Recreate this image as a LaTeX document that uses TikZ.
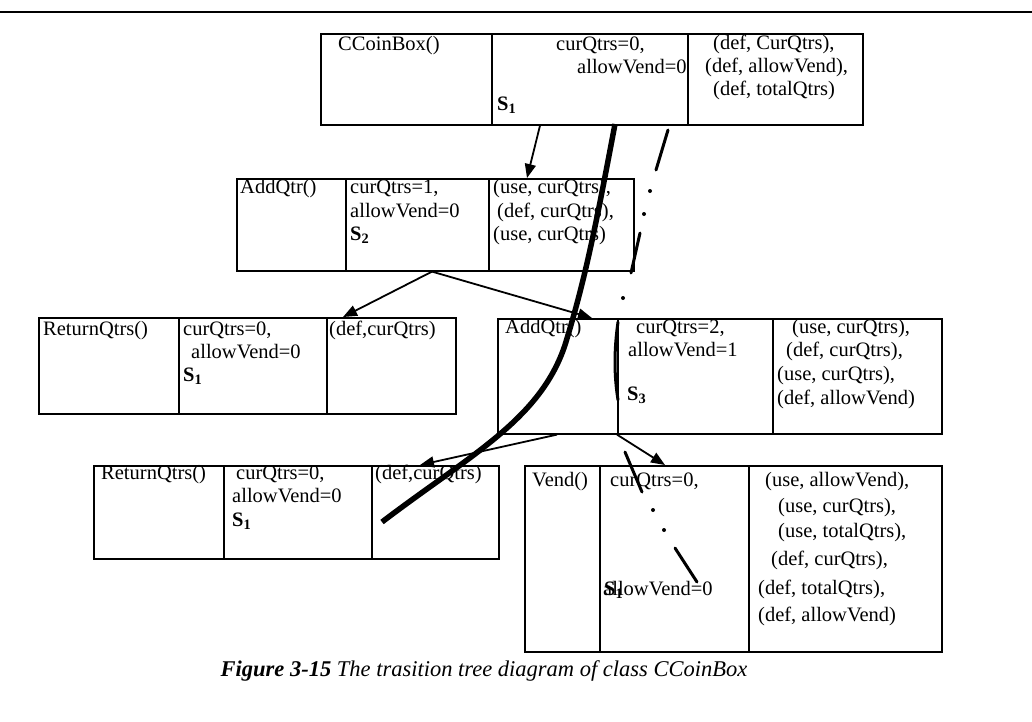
\documentclass[tikz,border=0pt]{standalone}
\usepackage{fontspec}
\setmainfont{Liberation Serif}
\usetikzlibrary{arrows.meta}
\newcommand\tx[4]{\node[lbl] (#1) at (#2,#3) {#4};}
\newcommand\Sx[1]{\textbf{S}\textsubscript{\textbf{#1}}}
\begin{document}
\begin{tikzpicture}[x=1pt,y=-1pt,
  cell/.style={draw=black,line width=1.6pt,rectangle,inner sep=0pt,anchor=north west},
  lbl/.style={inner sep=0pt,anchor=base west,font=\fontsize{20.5}{23}\selectfont},
  arr/.style={line width=1.8pt,-{Triangle[length=14pt,width=11pt]}},
  thickcurve/.style={line width=5.5pt},
  dashseg/.style={line width=3pt,line cap=round},
  dotmark/.style={fill=black,draw=none}]
\useasboundingbox (0,0) rectangle (1032,721);
% top rule
\draw[line width=2.5pt] (0,12) -- (1032,12);

% Box 1
\node[cell,minimum width=171pt,minimum height=91pt] (b1a) at (320,33) {};
\node[cell,minimum width=196pt,minimum height=91pt] (b1b) at (491,33) {};
\node[cell,minimum width=175pt,minimum height=91pt] (b1c) at (687,33) {};
% Box 2
\node[cell,minimum width=109pt,minimum height=92pt] (b2a) at (236,178) {};
\node[cell,minimum width=143pt,minimum height=92pt] (b2b) at (345,178) {};
\node[cell,minimum width=145pt,minimum height=92pt] (b2c) at (488,178) {};
% Box 3
\node[cell,minimum width=140pt,minimum height=96pt] (b3a) at (38,317) {};
\node[cell,minimum width=148pt,minimum height=96pt] (b3b) at (178,317) {};
\node[cell,minimum width=129pt,minimum height=96pt] (b3c) at (326,317) {};
% Box 4
\node[cell,minimum width=120pt,minimum height=115pt] (b4a) at (497,318) {};
\node[cell,minimum width=155pt,minimum height=115pt] (b4b) at (617,318) {};
\node[cell,minimum width=169pt,minimum height=115pt] (b4c) at (772,318) {};
% Box 5
\node[cell,minimum width=130pt,minimum height=93pt] (b5a) at (93,465) {};
\node[cell,minimum width=148pt,minimum height=93pt] (b5b) at (223,465) {};
\node[cell,minimum width=127pt,minimum height=93pt] (b5c) at (371,465) {};
% Box 6
\node[cell,minimum width=75pt,minimum height=186pt] (b6a) at (524,465) {};
\node[cell,minimum width=149pt,minimum height=186pt] (b6b) at (599,465) {};
\node[cell,minimum width=193pt,minimum height=186pt] (b6c) at (748,465) {};

% texts box 1
\tx{t1a}{338}{50}{CCoinBox()}
\tx{t1b}{556}{50}{curQtrs=0,}
\tx{t1c}{577}{73}{allowVend=0}
\tx{t1d}{497}{110}{\Sx{1}}
\tx{t1e}{713}{49}{(def, CurQtrs),}
\tx{t1f}{705}{72}{(def, allowVend),}
\tx{t1g}{713}{95}{(def, totalQtrs)}
% texts box 2
\tx{t2a}{240}{193}{AddQtr()}
\tx{t2b}{350}{193}{curQtrs=1,}
\tx{t2c}{350}{217}{allowVend=0}
\tx{t2d}{350}{240}{\Sx{2}}
\tx{t2e}{493}{193}{(use, curQtrs),}
\tx{t2f}{497}{217}{(def, curQtrs),}
\tx{t2g}{493}{240}{(use, curQtrs)}
% texts box 3
\tx{t3a}{43}{335}{ReturnQtrs()}
\tx{t3b}{183}{335}{curQtrs=0,}
\tx{t3c}{191}{358}{allowVend=0}
\tx{t3d}{183}{381}{\Sx{1}}
\tx{t3e}{329}{335}{(def,curQtrs)}
% texts box 4
\tx{t4a}{505}{333}{AddQtr()}
\tx{t4b}{636}{333}{curQtrs=2,}
\tx{t4c}{628}{356}{allowVend=1}
\tx{t4d}{627}{400}{\Sx{3}}
\tx{t4e}{792}{333}{(use, curQtrs),}
\tx{t4f}{786}{356}{(def, curQtrs),}
\tx{t4g}{777}{380}{(use, curQtrs),}
\tx{t4h}{777}{404}{(def, allowVend)}
% texts box 5
\tx{t5a}{101}{479}{ReturnQtrs()}
\tx{t5b}{236}{479}{curQtrs=0,}
\tx{t5c}{232}{502}{allowVend=0}
\tx{t5d}{232}{526}{\Sx{1}}
\tx{t5e}{375}{479}{(def,curQtrs)}
% texts box 6
\tx{t6a}{532}{486}{Vend()}
\tx{t6b}{610}{486}{curQtrs=0,}
\tx{t6c}{603}{595}{allowVend=0}
\tx{t6d}{604}{595}{\Sx{1}}
\tx{t6e}{765}{486}{(use, allowVend),}
\tx{t6f}{778}{512}{(use, curQtrs),}
\tx{t6g}{778}{537}{(use, totalQtrs),}
\tx{t6h}{771}{565}{(def, curQtrs),}
\tx{t6i}{758}{594}{(def, totalQtrs),}
\tx{t6j}{758}{621}{(def, allowVend)}

% caption
\node[inner sep=0pt,anchor=base,font=\fontsize{22.5}{26}\selectfont\itshape] (cap) at (484,676)
  {\textbf{Figure 3-15} The trasition tree diagram of class CCoinBox};

% arrows
\draw[arr] ([xshift=49pt]b1b.south west) -- ([xshift=39pt]b2c.north west);
\draw[arr] ([xshift=87pt]b2b.south west) -- ([xshift=17pt]b3c.north west);
\draw[arr] ([xshift=87pt]b2b.south west) -- ([xshift=95pt]b4a.north west);
\draw[arr] ([xshift=60pt]b4a.south west) -- ([xshift=49pt]b5c.north west);
\draw[arr] (b4b.south west) -- ([xshift=66pt]b6b.north west);

% dash-dot curve
\draw[dashseg] (668,130) -- (656,170);
\fill[dotmark] (650,191) circle (2pt);
\fill[dotmark] (644,214) circle (2pt);
\draw[dashseg] (640,233) -- (631,273);
\fill[dotmark] (623,298) circle (2pt);
\draw[dashseg] (618,322) .. controls (614,350) and (614,375) .. (618,400);
\draw[dashseg] (625,452) -- (642,492);
\fill[dotmark] (653,510) circle (2pt);
\fill[dotmark] (664,530) circle (2pt);
\draw[dashseg] (675,548) -- (697,582);

% thick curve
\draw[thickcurve] (615,124) .. controls (595,230) and (585,280) .. (565,345)
  .. controls (540,420) and (470,455) .. (382,522);
\end{tikzpicture}
\end{document}
